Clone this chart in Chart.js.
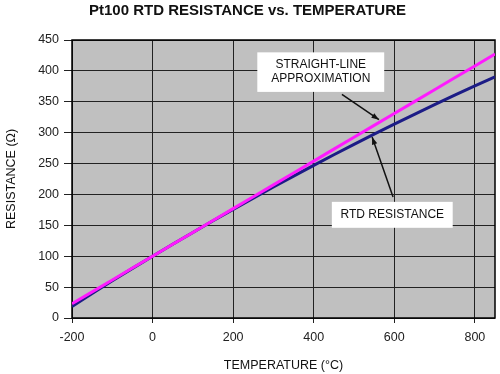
<!DOCTYPE html>
<html>
<head>
<meta charset="utf-8">
<script src="https://cdn.jsdelivr.net/npm/chart.js@4.4.1/dist/chart.umd.min.js"></script>
<style>
  html, body { margin: 0; padding: 0; background: #fff; }
  #wrap { width: 500px; height: 374px; }
</style>
</head>
<body>
<div id="wrap"><canvas id="myChart" width="500" height="374"></canvas></div>
<script>
// температуры, °C
var temps = [-200, -150, -100, -50, 0, 50, 100, 150, 200, 250, 300, 350, 400, 450, 500, 550, 600, 650, 700, 750, 800, 850];
// сопротивление RTD (Ом)
var rtdValues = [18.5, 39.7, 60.3, 80.3, 100, 119.4, 138.5, 157.3, 175.9, 194.1, 212.1, 229.7, 247.1, 264.2, 281.0, 297.5, 313.7, 329.6, 345.3, 360.6, 375.7, 390.5];
// прямая аппроксимация (Ом)
var lineValues = [23, 42.3, 61.5, 80.8, 100, 119.3, 138.5, 157.8, 177, 196.3, 215.5, 234.8, 254, 273.3, 292.5, 311.8, 331, 350.3, 369.5, 388.8, 408, 427.3];

function toPoints(vals) {
    return temps.map(function (t, i) { return { x: t, y: vals[i] }; });
}

// подписи со стрелками (в координатах данных)
var notes = [
    { lines: ['STRAIGHT-LINE', 'APPROXIMATION'], box: [260, 575, 430, 366], from: [470, 362], to: [562, 321] },
    { lines: ['RTD RESISTANCE'], box: [445, 745, 188, 146], from: [597, 196], to: [545, 293] }
];

var framePlugin = {
    id: 'frame',
    beforeDatasetsDraw: function (chart) {
        var a = chart.chartArea, c = chart.ctx;
        c.save();
        c.strokeStyle = '#000';
        c.lineWidth = 1.5;
        c.strokeRect(a.left, a.top, a.right - a.left, a.bottom - a.top);
        c.restore();
    },
    afterDatasetsDraw: function (chart) {
        var c = chart.ctx, xs = chart.scales.x, ys = chart.scales.y;
        c.save();
        notes.forEach(function (n) {
            var x1 = xs.getPixelForValue(n.box[0]), x2 = xs.getPixelForValue(n.box[1]);
            var y1 = ys.getPixelForValue(n.box[2]), y2 = ys.getPixelForValue(n.box[3]);
            c.fillStyle = '#fff';
            c.fillRect(x1, y1, x2 - x1, y2 - y1);
            c.fillStyle = '#111';
            c.font = '12px "Liberation Sans", Arial, sans-serif';
            c.textAlign = 'center';
            c.textBaseline = 'middle';
            var cx = (x1 + x2) / 2, cy = (y1 + y2) / 2, lh = 14;
            n.lines.forEach(function (s, i) {
                c.fillText(s, cx, cy + (i - (n.lines.length - 1) / 2) * lh);
            });
            // стрелка
            var fx = xs.getPixelForValue(n.from[0]), fy = ys.getPixelForValue(n.from[1]);
            var tx = xs.getPixelForValue(n.to[0]), ty = ys.getPixelForValue(n.to[1]);
            c.strokeStyle = '#111';
            c.lineWidth = 1.5;
            c.beginPath();
            c.moveTo(fx, fy);
            c.lineTo(tx, ty);
            c.stroke();
            var ang = Math.atan2(ty - fy, tx - fx), L = 8;
            c.beginPath();
            c.moveTo(tx, ty);
            c.lineTo(tx - L * Math.cos(ang - 0.35), ty - L * Math.sin(ang - 0.35));
            c.lineTo(tx - L * Math.cos(ang + 0.35), ty - L * Math.sin(ang + 0.35));
            c.closePath();
            c.fillStyle = '#111';
            c.fill();
        });
        c.restore();
    }
};

var plotBg = {
    id: 'plotBg',
    beforeDraw: function (chart) {
        var a = chart.chartArea, c = chart.ctx;
        c.save();
        c.fillStyle = '#c0c0c0';
        c.fillRect(a.left, a.top, a.right - a.left, a.bottom - a.top);
        c.restore();
    }
};

Chart.defaults.font.family = '"Liberation Sans", Arial, sans-serif';
Chart.defaults.color = '#222';

var ctx = document.getElementById('myChart');
var myChart = new Chart(ctx, {
    type: 'line',
    data: {
        datasets: [{
            label: 'Straight-line approximation',
            data: toPoints(lineValues),
            borderColor: '#ff1aff',
            borderWidth: 3,
            pointRadius: 0,
            order: 0
        }, {
            label: 'RTD resistance',
            data: toPoints(rtdValues),
            borderColor: '#1c1c86',
            borderWidth: 3,
            pointRadius: 0,
            order: 1
        }]
    },
    options: {
        responsive: false,
        animation: false,
        layout: { padding: { left: 0, right: 5, top: 0, bottom: 0 } },
        plugins: {
            legend: { display: false },
            tooltip: { enabled: false },
            title: {
                display: true,
                text: 'Pt100 RTD RESISTANCE vs. TEMPERATURE',
                color: '#111',
                font: { size: 15, weight: 'bold' },
                padding: { top: 2, bottom: 20 }
            }
        },
        scales: {
            x: {
                type: 'linear',
                min: -200,
                max: 850,
                afterFit: function (s) { s.height = 56; },
                ticks: { stepSize: 200, includeBounds: false, font: { size: 12.5 }, padding: 7 },
                grid: { color: '#222', lineWidth: 1, tickLength: 5 },
                border: { display: false },
                title: { display: true, text: 'TEMPERATURE (°C)', font: { size: 12.5 }, color: '#111', padding: { top: 0, bottom: 1 } }
            },
            y: {
                min: 0,
                max: 450,
                afterFit: function (s) { s.width = 72; },
                ticks: { stepSize: 50, font: { size: 12.5 }, padding: 5 },
                grid: { color: '#222', lineWidth: 1, tickLength: 8 },
                border: { display: false },
                title: { display: true, text: 'RESISTANCE (Ω)', font: { size: 12.5 }, color: '#111', padding: { top: 4, bottom: 0 } }
            }
        }
    },
    plugins: [plotBg, framePlugin]
});
</script>
</body>
</html>
